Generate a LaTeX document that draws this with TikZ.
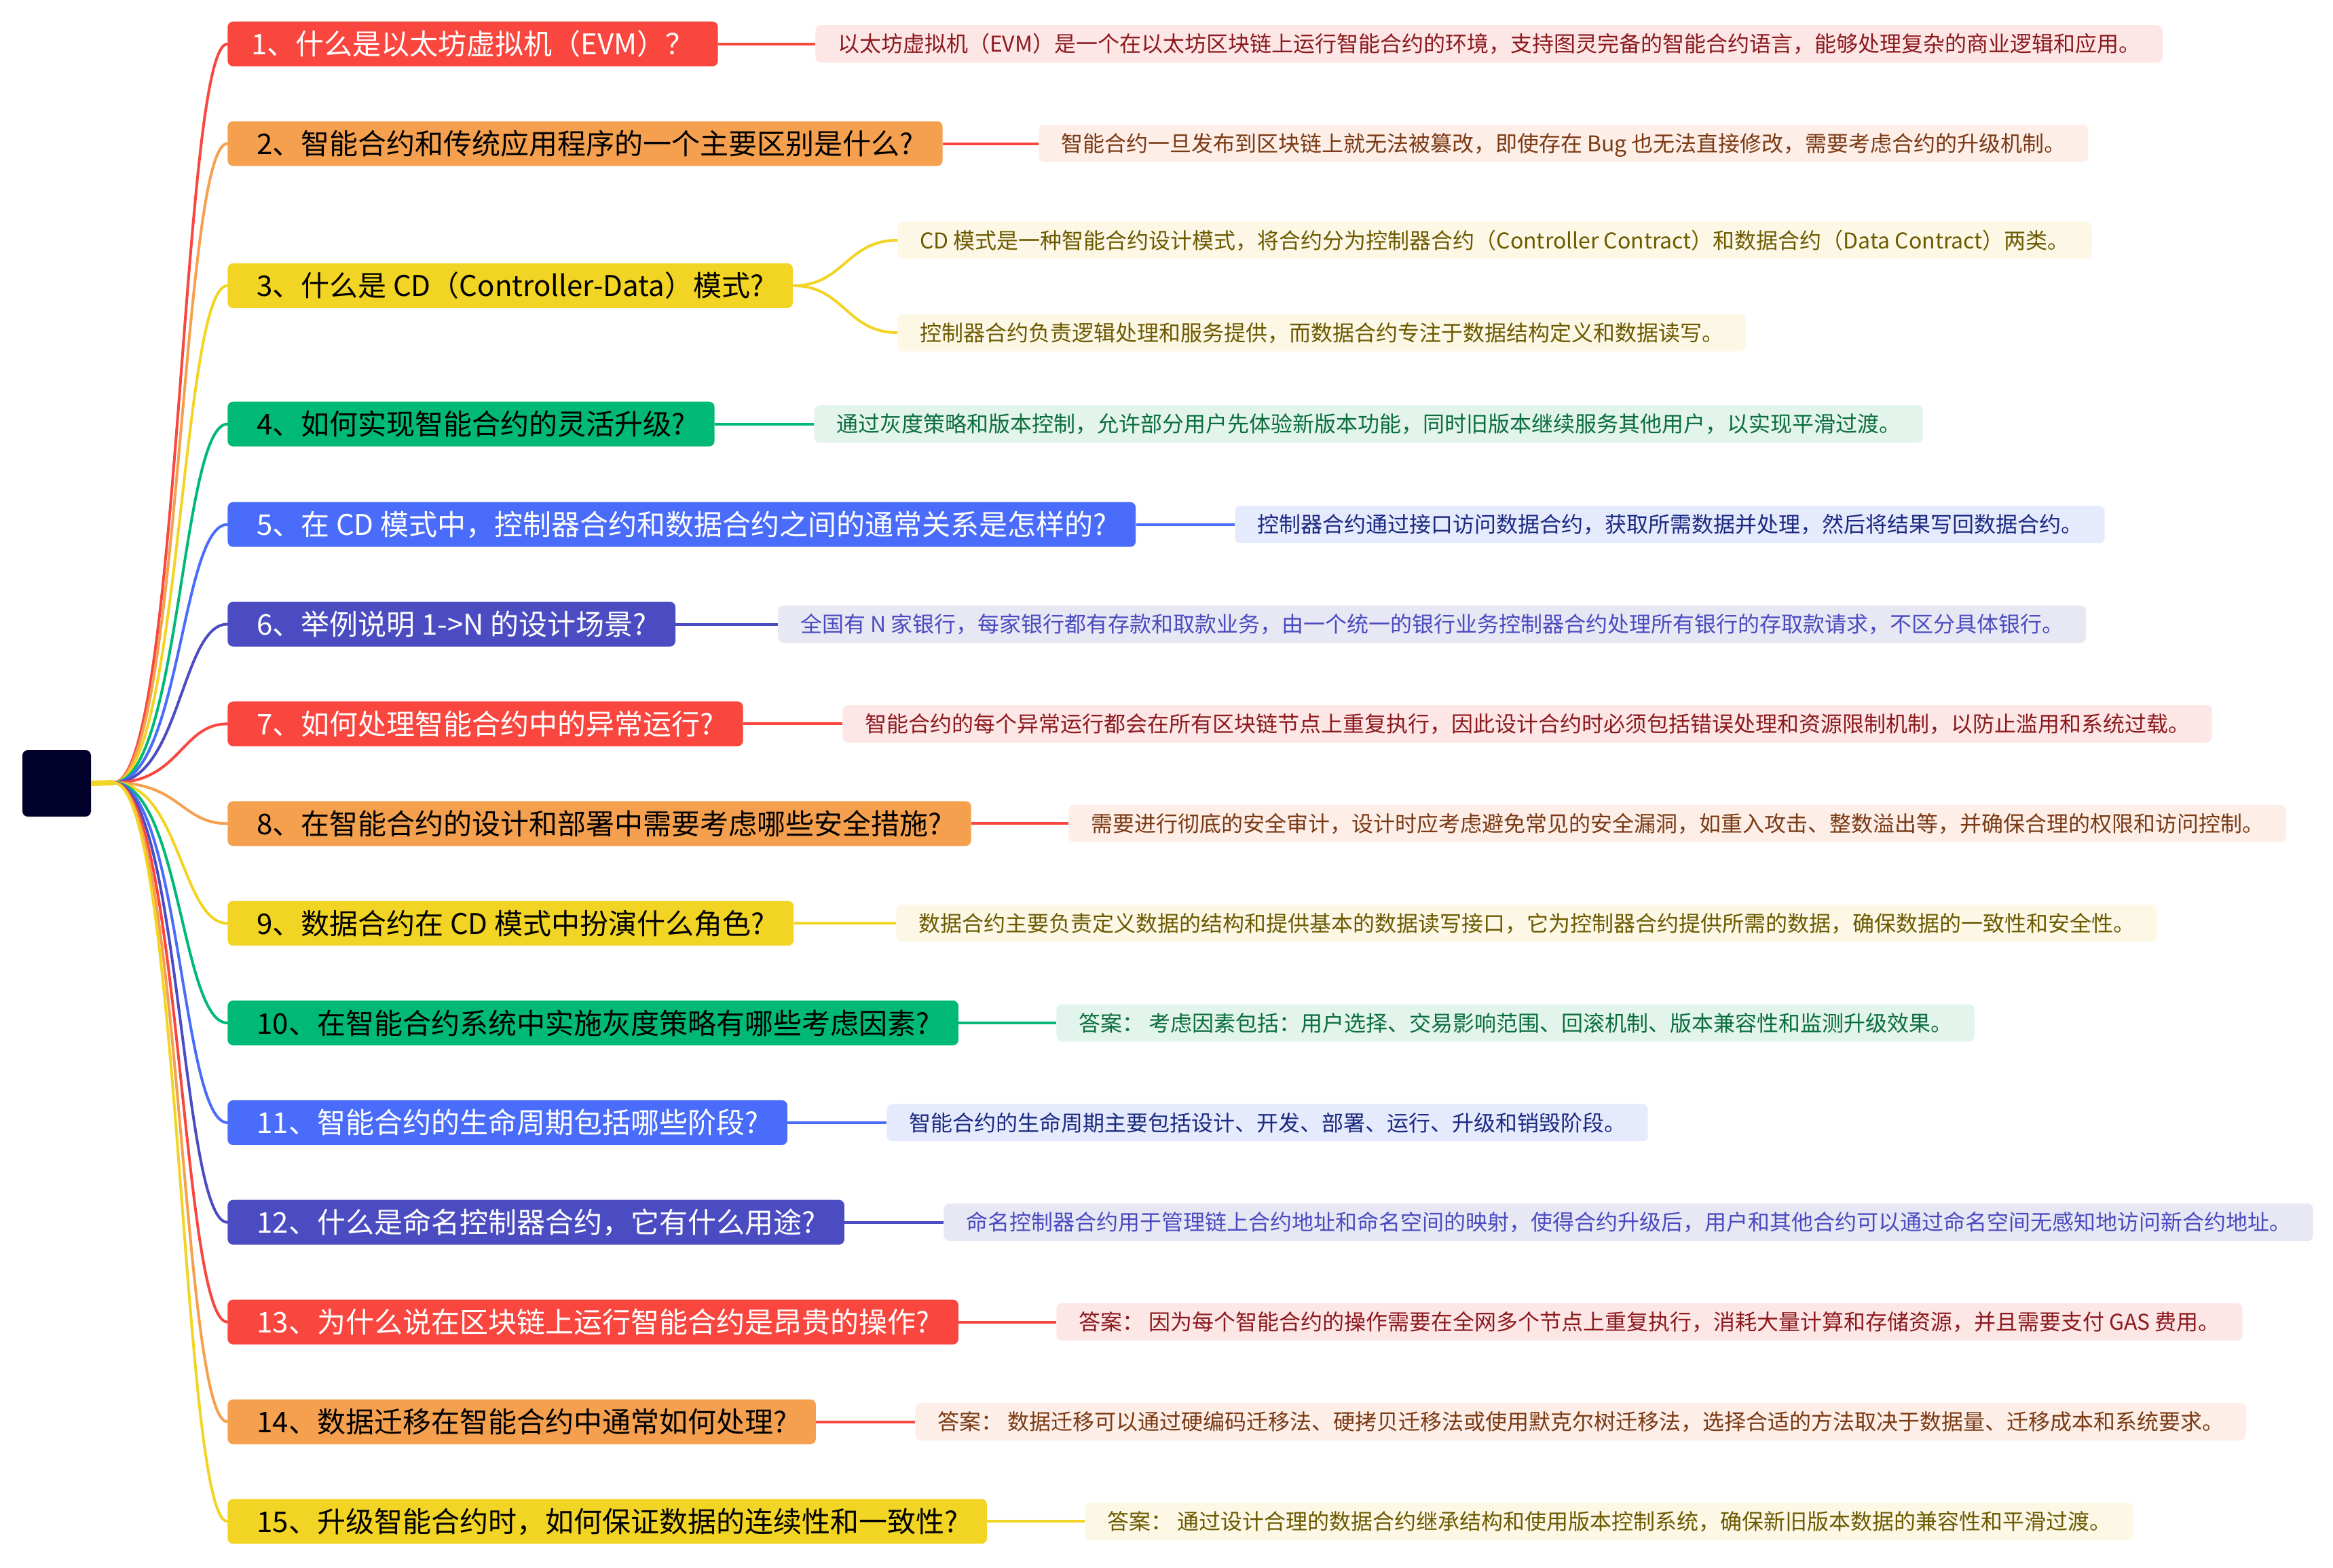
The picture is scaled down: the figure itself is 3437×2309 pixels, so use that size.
\documentclass[tikz,border=0pt]{standalone}
\usepackage{fontspec}
\setmainfont{Noto Sans CJK SC}
\definecolor{cRed}{HTML}{F9463F}
\definecolor{cOrg}{HTML}{F5A04E}
\definecolor{cYel}{HTML}{F2D424}
\definecolor{cGrn}{HTML}{00B977}
\definecolor{cBlu}{HTML}{4A6CFA}
\definecolor{cInd}{HTML}{4C4CC2}
\definecolor{cRoot}{HTML}{00002A}
\definecolor{fRed}{HTML}{FDE6E6}
\definecolor{tRed}{HTML}{8B1A1E}
\definecolor{fOrg}{HTML}{FDEEE8}
\definecolor{tOrg}{HTML}{7A3A14}
\definecolor{fYel}{HTML}{FDF7E6}
\definecolor{tYel}{HTML}{6B5A00}
\definecolor{fGrn}{HTML}{E3F4EC}
\definecolor{tGrn}{HTML}{0B6E3E}
\definecolor{fBlu}{HTML}{E6EAFD}
\definecolor{tBlu}{HTML}{1A2A80}
\definecolor{fInd}{HTML}{E8E8F5}
\definecolor{tInd}{HTML}{4B4BC0}
\tikzset{
  qbox/.style={rounded corners=4pt, minimum height=33pt, inner xsep=21.5pt, inner ysep=0pt,
    anchor=west, font=\fontsize{21pt}{25pt}\selectfont, text height=18.5pt, text depth=2.5pt},
  abox/.style={rounded corners=4pt, minimum height=27.5pt, inner xsep=16.3pt, inner ysep=0pt,
    anchor=west, font=\fontsize{16pt}{19pt}\selectfont, text height=14.1pt, text depth=1.9pt},
  qR/.style={qbox, fill=cRed, text=white},
  qO/.style={qbox, fill=cOrg, text=black},
  qY/.style={qbox, fill=cYel, text=black},
  qG/.style={qbox, fill=cGrn, text=black},
  qB/.style={qbox, fill=cBlu, text=white},
  qI/.style={qbox, fill=cInd, text=white},
  aR/.style={abox, fill=fRed, text=tRed},
  aO/.style={abox, fill=fOrg, text=tOrg},
  aY/.style={abox, fill=fYel, text=tYel},
  aG/.style={abox, fill=fGrn, text=tGrn},
  aB/.style={abox, fill=fBlu, text=tBlu},
  aI/.style={abox, fill=fInd, text=tInd},
  br/.style={line width=2pt, line cap=round},
  lk/.style={line width=2pt},
}
\begin{document}
\begin{tikzpicture}[x=0.5pt, y=-0.5pt]
\useasboundingbox (0,0) rectangle (3437,2309);
\fill[white] (0,0) rectangle (3437,2309);
% root
\node[fill=cRoot, rounded corners=4pt, minimum width=50.5pt, minimum height=49pt, inner sep=0pt] (root) at (83.5,1154) {};
\coordinate (hub) at (167,1153);
% questions
\node[qR, inner xsep=17.5pt] (q1) at (335,64.7) {1、什么是以太坊虚拟机（EVM）？};
\node[qO] (q2) at (335,211.5) {2、智能合约和传统应用程序的一个主要区别是什么?};
\node[qY] (q3) at (335,420.9) {3、什么是 CD（Controller-Data）模式?};
\node[qG] (q4) at (335,624.7) {4、如何实现智能合约的灵活升级?};
\node[qB] (q5) at (335,772.7) {5、在 CD 模式中，控制器合约和数据合约之间的通常关系是怎样的?};
\node[qI] (q6) at (335,919.5) {6、举例说明 1->N 的设计场景?};
\node[qR] (q7) at (335,1066.4) {7、如何处理智能合约中的异常运行?};
\node[qO] (q8) at (335,1213.3) {8、在智能合约的设计和部署中需要考虑哪些安全措施?};
\node[qY] (q9) at (335,1360.2) {9、数据合约在 CD 模式中扮演什么角色?};
\node[qG] (q10) at (335,1507) {10、在智能合约系统中实施灰度策略有哪些考虑因素?};
\node[qB] (q11) at (335,1653.9) {11、智能合约的生命周期包括哪些阶段?};
\node[qI] (q12) at (335,1800.7) {12、什么是命名控制器合约，它有什么用途?};
\node[qR] (q13) at (335,1947.6) {13、为什么说在区块链上运行智能合约是昂贵的操作?};
\node[qO] (q14) at (335,2094.5) {14、数据迁移在智能合约中通常如何处理?};
\node[qY] (q15) at (335,2241.3) {15、升级智能合约时，如何保证数据的连续性和一致性?};
% answers
\node[aR] (a1) at (1201,64.7) {以太坊虚拟机（EVM）是一个在以太坊区块链上运行智能合约的环境，支持图灵完备的智能合约语言，能够处理复杂的商业逻辑和应用。};
\node[aO] (a2) at (1530,211.5) {智能合约一旦发布到区块链上就无法被篡改，即使存在 Bug 也无法直接修改，需要考虑合约的升级机制。};
\node[aY] (a3a) at (1322,354) {CD 模式是一种智能合约设计模式，将合约分为控制器合约（Controller Contract）和数据合约（Data Contract）两类。};
\node[aY] (a3b) at (1322,490) {控制器合约负责逻辑处理和服务提供，而数据合约专注于数据结构定义和数据读写。};
\node[aG] (a4) at (1199,624.7) {通过灰度策略和版本控制，允许部分用户先体验新版本功能，同时旧版本继续服务其他用户，以实现平滑过渡。};
\node[aB] (a5) at (1819,772.7) {控制器合约通过接口访问数据合约，获取所需数据并处理，然后将结果写回数据合约。};
\node[aI] (a6) at (1146,919.5) {全国有 N 家银行，每家银行都有存款和取款业务，由一个统一的银行业务控制器合约处理所有银行的存取款请求，不区分具体银行。};
\node[aR] (a7) at (1241,1066.4) {智能合约的每个异常运行都会在所有区块链节点上重复执行，因此设计合约时必须包括错误处理和资源限制机制，以防止滥用和系统过载。};
\node[aO] (a8) at (1574,1213.3) {需要进行彻底的安全审计，设计时应考虑避免常见的安全漏洞，如重入攻击、整数溢出等，并确保合理的权限和访问控制。};
\node[aY] (a9) at (1320,1360.2) {数据合约主要负责定义数据的结构和提供基本的数据读写接口，它为控制器合约提供所需的数据，确保数据的一致性和安全性。};
\node[aG] (a10) at (1556,1507) {答案： 考虑因素包括：用户选择、交易影响范围、回滚机制、版本兼容性和监测升级效果。};
\node[aB] (a11) at (1306,1653.9) {智能合约的生命周期主要包括设计、开发、部署、运行、升级和销毁阶段。};
\node[aI] (a12) at (1390,1800.7) {命名控制器合约用于管理链上合约地址和命名空间的映射，使得合约升级后，用户和其他合约可以通过命名空间无感知地访问新合约地址。};
\node[aR] (a13) at (1556,1947.6) {答案： 因为每个智能合约的操作需要在全网多个节点上重复执行，消耗大量计算和存储资源，并且需要支付 GAS 费用。};
\node[aO] (a14) at (1348,2094.5) {答案： 数据迁移可以通过硬编码迁移法、硬拷贝迁移法或使用默克尔树迁移法，选择合适的方法取决于数据量、迁移成本和系统要求。};
\node[aY] (a15) at (1598,2241.3) {答案： 通过设计合理的数据合约继承结构和使用版本控制系统，确保新旧版本数据的兼容性和平滑过渡。};
% question-answer links
\draw[lk, cRed] (q1.east) -- (a1.west);
\draw[lk, cRed] (q2.east) -- (a2.west);
\draw[lk, cYel] (q3.east) .. controls +(75,0) and +(-75,0) .. (a3a.west);
\draw[lk, cYel] (q3.east) .. controls +(75,0) and +(-75,0) .. (a3b.west);
\draw[lk, cGrn] (q4.east) -- (a4.west);
\draw[lk, cBlu] (q5.east) -- (a5.west);
\draw[lk, cInd] (q6.east) -- (a6.west);
\draw[lk, cRed] (q7.east) -- (a7.west);
\draw[lk, cRed] (q8.east) -- (a8.west);
\draw[lk, cYel] (q9.east) -- (a9.west);
\draw[lk, cGrn] (q10.east) -- (a10.west);
\draw[lk, cBlu] (q11.east) -- (a11.west);
\draw[lk, cInd] (q12.east) -- (a12.west);
\draw[lk, cRed] (q13.east) -- (a13.west);
\draw[lk, cRed] (q14.east) -- (a14.west);
\draw[lk, cYel] (q15.east) -- (a15.west);
% branches from root
\draw[br, cRed] (hub) .. controls +(98,0) and +(-68,0) .. (q1.west);
\draw[br, cOrg] (hub) .. controls +(98,0) and +(-68,0) .. (q2.west);
\draw[br, cYel] (hub) .. controls +(98,0) and +(-68,0) .. (q3.west);
\draw[br, cGrn] (hub) .. controls +(98,0) and +(-68,0) .. (q4.west);
\draw[br, cBlu] (hub) .. controls +(98,0) and +(-68,0) .. (q5.west);
\draw[br, cInd] (hub) .. controls +(98,0) and +(-68,0) .. (q6.west);
\draw[br, cRed] (hub) .. controls +(98,0) and +(-68,0) .. (q7.west);
\draw[br, cOrg] (hub) .. controls +(98,0) and +(-68,0) .. (q8.west);
\draw[br, cYel] (hub) .. controls +(98,0) and +(-68,0) .. (q9.west);
\draw[br, cGrn] (hub) .. controls +(98,0) and +(-68,0) .. (q10.west);
\draw[br, cBlu] (hub) .. controls +(98,0) and +(-68,0) .. (q11.west);
\draw[br, cInd] (hub) .. controls +(98,0) and +(-68,0) .. (q12.west);
\draw[br, cRed] (hub) .. controls +(98,0) and +(-68,0) .. (q13.west);
\draw[br, cOrg] (hub) .. controls +(98,0) and +(-68,0) .. (q14.west);
\draw[br, cYel] (hub) .. controls +(98,0) and +(-68,0) .. (q15.west);
\draw[line width=4pt, cYel] (root.east) -- (hub);
\end{tikzpicture}
\end{document}
